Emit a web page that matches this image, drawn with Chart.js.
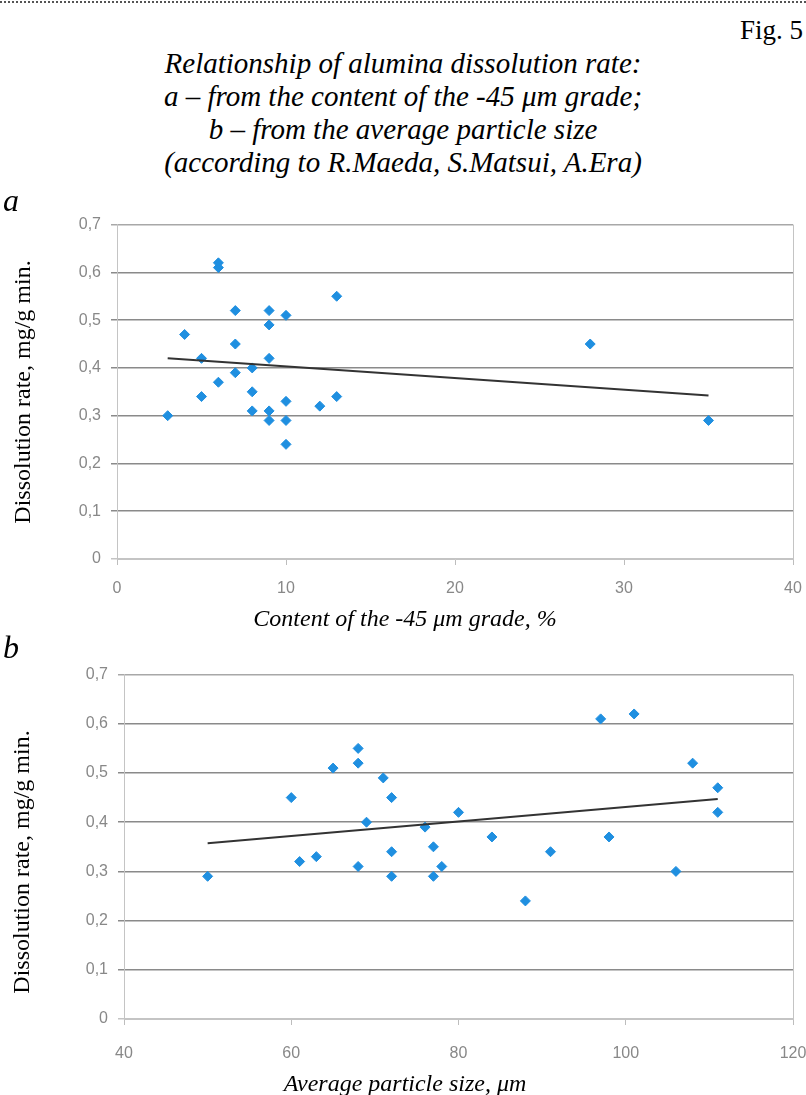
<!DOCTYPE html>
<html>
<head>
<meta charset="utf-8">
<script src="https://cdn.jsdelivr.net/npm/chart.js@4.4.1/dist/chart.umd.min.js"></script>
<style>
  body { margin: 0; background: #fff; }
  #page { position: relative; width: 806px; height: 1095px; overflow: hidden; font-family: 'Liberation Serif', 'Times New Roman', serif; color: #000; }
  .abs { position: absolute; white-space: nowrap; }
  canvas { position: absolute; left: 0; }
  .ytitle { position: absolute; white-space: nowrap; font-size: 24px; line-height: 24px; transform: translate(-50%, -50%) rotate(-90deg); }
</style>
</head>
<body>
<div id="page">
  <canvas id="chartA" width="806" height="420" style="top:205px"></canvas>
  <canvas id="chartB" width="806" height="425" style="top:655px"></canvas>

  <div class="abs" style="left:0;top:1px;width:806px;border-top:2px dotted #555;"></div>
  <div class="abs" style="right:3px;top:15px;font-size:27px;line-height:30px;">Fig. 5</div>
  <div class="abs" style="left:0;top:47px;width:806px;text-align:center;font-size:29px;line-height:33px;font-style:italic;">
    Relationship of alumina dissolution rate:<br>
    a – from the content of the -45 μm grade;<br>
    b – from the average particle size<br>
    (according to R.Maeda, S.Matsui, A.Era)
  </div>
  <div class="abs" style="left:3px;top:184px;font-size:32px;line-height:32px;font-style:italic;">a</div>
  <div class="abs" style="left:3px;top:631px;font-size:32px;line-height:32px;font-style:italic;">b</div>
  <div class="ytitle" style="left:22px;top:392px;">Dissolution rate, mg/g min.</div>
  <div class="ytitle" style="left:21px;top:862px;">Dissolution rate, mg/g min.</div>
  <div class="abs" style="left:0;top:604px;width:810px;text-align:center;font-size:24px;line-height:28px;font-style:italic;">Content of the -45 μm grade, %</div>
  <div class="abs" style="left:0;top:1069px;width:810px;text-align:center;font-size:24px;line-height:28px;font-style:italic;">Average particle size, μm</div>
</div>

<script>
// chart a: content of the -45 um grade (%) vs dissolution rate
var aContent = [3, 4, 5, 5, 6, 6, 6, 7, 7, 7, 8, 8, 8, 9, 9, 9, 9, 9, 10, 10, 10, 10, 12, 13, 13, 28, 35];
var aRate = [0.30, 0.47, 0.42, 0.34, 0.62, 0.61, 0.37, 0.52, 0.45, 0.39, 0.40, 0.35, 0.31, 0.52, 0.49, 0.42, 0.31, 0.29, 0.51, 0.33, 0.29, 0.24, 0.32, 0.55, 0.34, 0.45, 0.29];
var aTrendX = [3, 35];
var aTrendY = [0.42, 0.342];

// chart b: average particle size (um) vs dissolution rate
var bSize = [50, 60, 61, 63, 65, 68, 68, 68, 69, 71, 72, 72, 72, 76, 77, 77, 78, 80, 84, 88, 91, 97, 98, 101, 106, 108, 111, 111];
var bRate = [0.29, 0.45, 0.32, 0.33, 0.51, 0.55, 0.52, 0.31, 0.40, 0.49, 0.45, 0.34, 0.29, 0.39, 0.35, 0.29, 0.31, 0.42, 0.37, 0.24, 0.34, 0.61, 0.37, 0.62, 0.30, 0.52, 0.47, 0.42];
var bTrendX = [50, 111];
var bTrendY = [0.357, 0.447];

var yMin = 0, yMax = 0.7, yStep = 0.1;

function pairs(xs, ys) {
    return xs.map(function (x, i) { return { x: x, y: ys[i] }; });
}

// 0,1 style labels like the original
function commaLabel(v) {
    if (Math.abs(v) < 1e-9) return '0';
    return v.toFixed(1).replace('.', ',');
}

var tickFont = { family: "'Liberation Sans', Arial, sans-serif", size: 16 };
var tickColor = '#888';

function makeChart(id, xs, ys, tx, ty, xMin, xMax, xStep, opts) {
    var ctx = document.getElementById(id).getContext('2d');
    return new Chart(ctx, {
        type: 'scatter',
        data: {
            datasets: [{
                data: pairs(tx, ty),
                showLine: true,
                borderColor: '#333',
                borderWidth: 2,
                pointRadius: 0
            }, {
                data: pairs(xs, ys),
                pointStyle: 'rectRot',
                pointRadius: 5,
                backgroundColor: '#1f8fe0',
                borderColor: '#1f8fe0',
                borderWidth: 1
            }]
        },
        options: {
            responsive: false,
            animation: false,
            devicePixelRatio: 1,
            layout: { padding: { top: 17, right: opts.right, left: 0, bottom: 0 } },
            plugins: { legend: { display: false }, tooltip: { enabled: false } },
            scales: {
                x: {
                    type: 'linear',
                    min: xMin,
                    max: xMax,
                    ticks: {
                        stepSize: xStep,
                        font: tickFont,
                        color: tickColor,
                        padding: opts.xPad,
                        maxRotation: 0
                    },
                    grid: {
                        drawOnChartArea: true,
                        tickLength: 6,
                        tickColor: '#bdbdbd',
                        color: function (c) {
                            return c.tick && c.tick.value === xMax ? '#c4c4c4' : 'rgba(0,0,0,0)';
                        }
                    },
                    border: { color: '#c4c4c4', width: 1 },
                    afterFit: function (s) {
                        s.height = opts.xHeight;
                        s.paddingLeft = 0;
                        s.paddingRight = 0;
                    }
                },
                y: {
                    min: yMin,
                    max: yMax,
                    ticks: {
                        stepSize: yStep,
                        font: tickFont,
                        color: tickColor,
                        padding: 10,
                        callback: commaLabel
                    },
                    grid: {
                        tickLength: 6,
                        lineWidth: 1.5,
                        color: function (c) {
                            var v = c.tick ? c.tick.value : 0;
                            if (Math.abs(v) < 1e-9) return '#c4c4c4';
                            if (Math.abs(v - yMax) < 1e-9) return '#a8a8a8';
                            return '#8a8a8a';
                        }
                    },
                    border: { color: '#c4c4c4', width: 1 },
                    afterFit: function (s) {
                        s.width = opts.yWidth;
                    }
                }
            }
        }
    });
}

makeChart('chartA', aContent, aRate, aTrendX, aTrendY, 0, 40, 10,
    { right: 13, xPad: 14, xHeight: 66, yWidth: 117 });
makeChart('chartB', bSize, bRate, bTrendX, bTrendY, 40, 120, 20,
    { right: 13, xPad: 19, xHeight: 61, yWidth: 124 });
</script>
</body>
</html>
